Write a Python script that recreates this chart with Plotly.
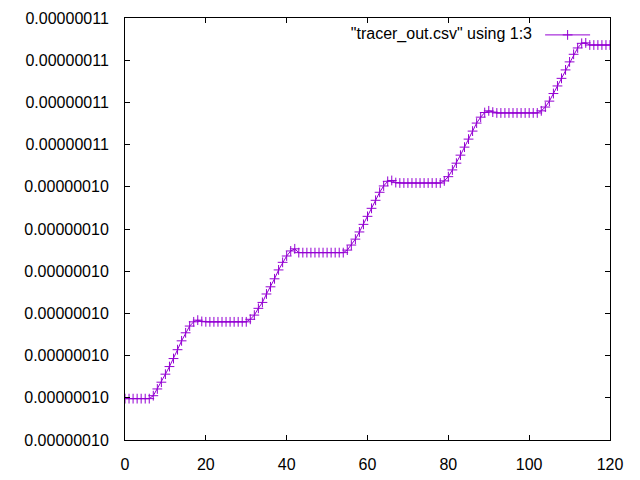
import plotly.graph_objects as go

# column 1 of tracer_out.csv
x_values = [
    0, 1, 2, 3, 4, 5, 6, 7, 8, 9, 10, 11, 12, 13, 14, 15, 16, 17, 18, 19,
    20, 21, 22, 23, 24, 25, 26, 27, 28, 29, 30, 31, 32, 33, 34, 35, 36, 37, 38, 39,
    40, 41, 42, 43, 44, 45, 46, 47, 48, 49, 50, 51, 52, 53, 54, 55, 56, 57, 58, 59,
    60, 61, 62, 63, 64, 65, 66, 67, 68, 69, 70, 71, 72, 73, 74, 75, 76, 77, 78, 79,
    80, 81, 82, 83, 84, 85, 86, 87, 88, 89, 90, 91, 92, 93, 94, 95, 96, 97, 98, 99,
    100, 101, 102, 103, 104, 105, 106, 107, 108, 109, 110, 111, 112, 113, 114, 115, 116, 117, 118, 119,
    120,
]

# column 3 of tracer_out.csv
y_values = [
    99.98e-9, 99.98e-9, 99.98e-9, 99.98e-9, 99.98e-9, 99.98e-9, 99.98e-9,
    100.05e-9, 100.21e-9, 100.37e-9, 100.56e-9, 100.74e-9, 100.93e-9, 101.14e-9,
    101.35e-9, 101.54e-9, 101.70e-9, 101.80e-9, 101.84e-9, 101.81e-9,
    101.80e-9, 101.80e-9, 101.80e-9, 101.80e-9, 101.80e-9, 101.80e-9, 101.80e-9,
    101.80e-9, 101.80e-9, 101.80e-9, 101.80e-9,
    101.86e-9, 101.96e-9, 102.12e-9, 102.26e-9, 102.46e-9, 102.63e-9, 102.82e-9,
    103.03e-9, 103.21e-9, 103.36e-9, 103.48e-9, 103.53e-9,
    103.44e-9, 103.44e-9, 103.44e-9, 103.44e-9, 103.44e-9, 103.44e-9, 103.44e-9,
    103.44e-9, 103.44e-9, 103.44e-9, 103.44e-9, 103.44e-9,
    103.50e-9, 103.62e-9, 103.76e-9, 103.93e-9, 104.11e-9, 104.30e-9, 104.49e-9,
    104.68e-9, 104.87e-9, 105.02e-9, 105.13e-9, 105.15e-9, 105.10e-9,
    105.09e-9, 105.09e-9, 105.09e-9, 105.09e-9, 105.09e-9, 105.09e-9, 105.09e-9,
    105.09e-9, 105.09e-9, 105.09e-9, 105.09e-9,
    105.14e-9, 105.24e-9, 105.40e-9, 105.56e-9, 105.75e-9, 105.94e-9, 106.13e-9,
    106.32e-9, 106.51e-9, 106.65e-9, 106.76e-9, 106.80e-9, 106.77e-9,
    106.75e-9, 106.75e-9, 106.75e-9, 106.75e-9, 106.75e-9, 106.75e-9, 106.75e-9,
    106.75e-9, 106.75e-9, 106.75e-9, 106.75e-9,
    106.80e-9, 106.89e-9, 107.03e-9, 107.21e-9, 107.39e-9, 107.57e-9, 107.77e-9,
    107.96e-9, 108.14e-9, 108.29e-9, 108.40e-9, 108.41e-9,
    108.36e-9, 108.36e-9, 108.36e-9, 108.36e-9, 108.36e-9, 108.36e-9,
]

x_tick_values = [0, 20, 40, 60, 80, 100, 120]
y_tick_values = [99e-9, 100e-9, 101e-9, 102e-9, 103e-9, 104e-9, 105e-9,
                 106e-9, 107e-9, 108e-9, 109e-9]
y_tick_labels = ["0.00000010", "0.00000010", "0.00000010", "0.00000010",
                 "0.00000010", "0.00000010", "0.00000010", "0.00000011",
                 "0.00000011", "0.00000011", "0.00000011"]
legend_label = '"tracer_out.csv" using 1:3'

COLOR = "#9400D3"
FONT = dict(family="Liberation Sans, Arial, sans-serif", size=16, color="black")

fig = go.Figure()
fig.add_trace(go.Scatter(
    x=x_values, y=y_values, mode="lines+markers", name="",
    line=dict(color=COLOR, width=1),
    marker=dict(symbol="cross-thin", size=7, line=dict(color=COLOR, width=1)),
))

axis_common = dict(
    showline=True, linecolor="black", linewidth=1, mirror="allticks",
    ticks="inside", ticklen=5, tickcolor="black", tickwidth=1,
    showgrid=False, zeroline=False, tickfont=FONT, automargin=False,
)
# the page body adds an 8 px offset, so the figure is 8 px smaller
fig.update_layout(
    width=632, height=472,
    margin=dict(l=117, r=30, t=10, b=40),
    paper_bgcolor="white", plot_bgcolor="white",
    xaxis=dict(range=[0, 120], tickvals=x_tick_values, ticklabelstandoff=10, **axis_common),
    yaxis=dict(range=[99e-9, 109e-9], tickvals=y_tick_values, ticktext=y_tick_labels,
               ticklabelstandoff=12, **axis_common),
    showlegend=True,
    legend=dict(
        x=0.981, xanchor="right", y=1.0, yanchor="top",
        bgcolor="rgba(0,0,0,0)", borderwidth=0,
        title=dict(text=legend_label, side="left", font=FONT),
        font=FONT, itemwidth=45,
    ),
)

fig.write_html("out.html")
